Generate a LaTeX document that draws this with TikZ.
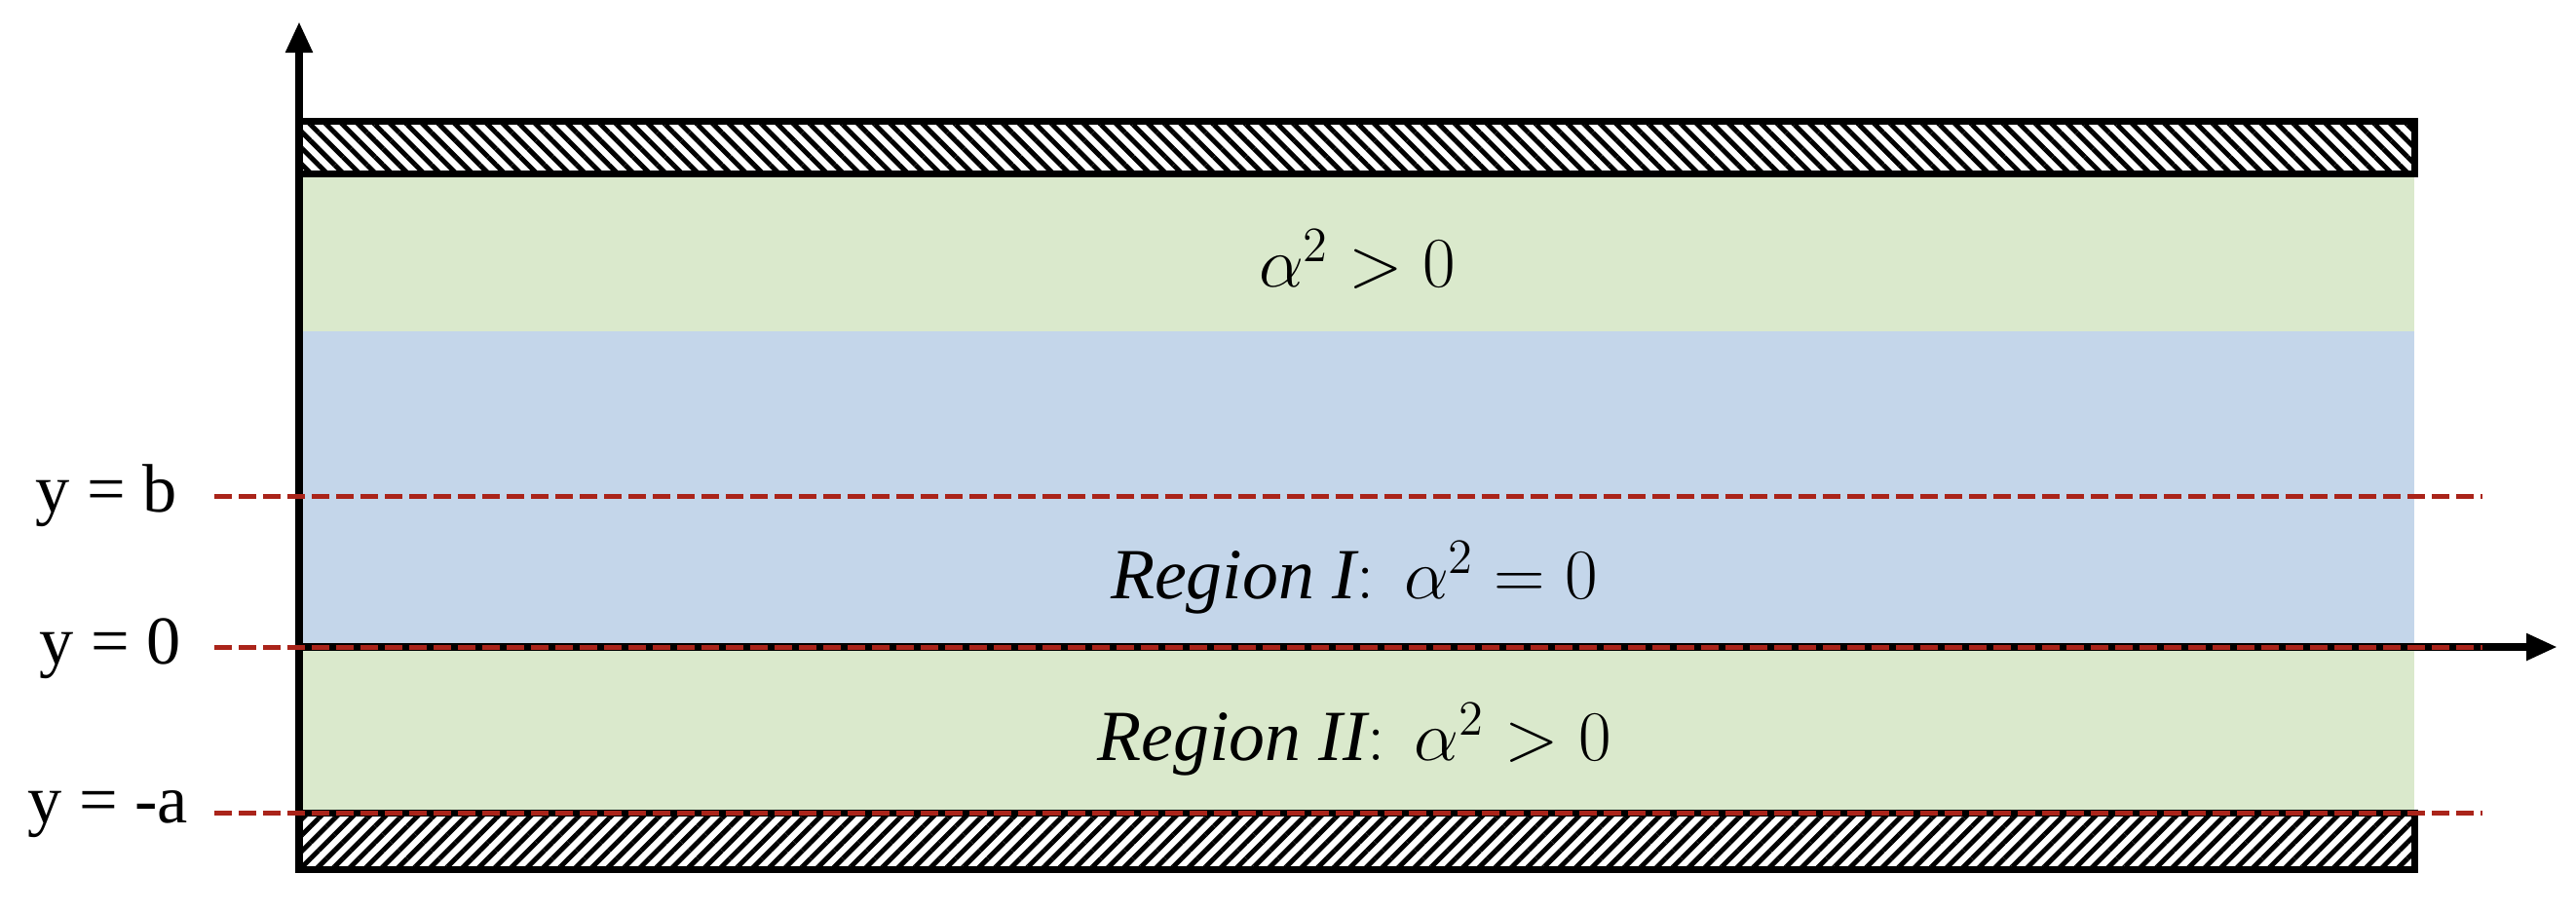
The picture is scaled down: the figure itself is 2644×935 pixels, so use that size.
\documentclass[tikz,border=0pt]{standalone}
\usepackage{fontspec}
\setmainfont{Liberation Serif}
\usetikzlibrary{arrows.meta,patterns.meta}
\definecolor{gfill}{RGB}{218,233,204}
\definecolor{bfill}{RGB}{196,214,234}
\definecolor{dred}{RGB}{170,36,26}
\tikzset{
  bar/.style={draw=black,line width=0.07cm,fill=white},
  axis/.style={line width=0.08cm,-{Triangle[length=0.32cm,width=0.26cm]}},
  level/.style={dred,line width=0.05cm,dash pattern=on 0.18cm off 0.07cm},
  lbl/.style={font=\fontsize{20}{24}\selectfont,anchor=west},
  reg/.style={font=\fontsize{21}{25}\selectfont}
}
\begin{document}
\begin{tikzpicture}[x=0.01cm,y=-0.01cm]
\useasboundingbox (0,0) rectangle (2644,935);
\fill[gfill] (307,178) rectangle (2478,340);
\fill[bfill] (307,340) rectangle (2478,664);
\fill[gfill] (307,664) rectangle (2478,834);
\draw[bar] (307,124) rectangle (2478,178);
\fill[pattern={Lines[angle=-45,distance=0.117cm,line width=0.05cm]}] (307,124) rectangle (2478,178);
\draw[line width=0.07cm] (307,124) rectangle (2478,178);
\draw[bar] (307,834) rectangle (2478,892);
\fill[pattern={Lines[angle=45,distance=0.117cm,line width=0.05cm]}] (307,834) rectangle (2478,892);
\draw[line width=0.07cm] (307,834) rectangle (2478,892);
\coordinate (o) at (307,892);
\coordinate (ytop) at (307,22);
\coordinate (xs) at (307,664);
\coordinate (xe) at (2625,664);
\draw[axis] (o) -- (ytop);
\draw[axis] (xs) -- (xe);
\coordinate (b1) at (220,509); \coordinate (b2) at (2548,509);
\coordinate (z1) at (220,664); \coordinate (z2) at (2548,664);
\coordinate (a1) at (220,834); \coordinate (a2) at (2548,834);
\draw[level] (b1) -- (b2);
\draw[level] (z1) -- (z2);
\draw[level] (a1) -- (a2);
\node[lbl] (lb) at (24,509) {y = b};
\node[lbl] (l0) at (28,666) {y = 0};
\node[lbl] (la) at (16,836) {y = -a};
\node[reg] (t1) at (1393,266) {$\alpha^2>0$};
\node[reg] (t2) at (1390,593) {$\mathit{Region\ I}\colon\ \alpha^2=0$};
\node[reg] (t3) at (1390,759) {$\mathit{Region\ II}\colon\ \alpha^2>0$};
\end{tikzpicture}
\end{document}
